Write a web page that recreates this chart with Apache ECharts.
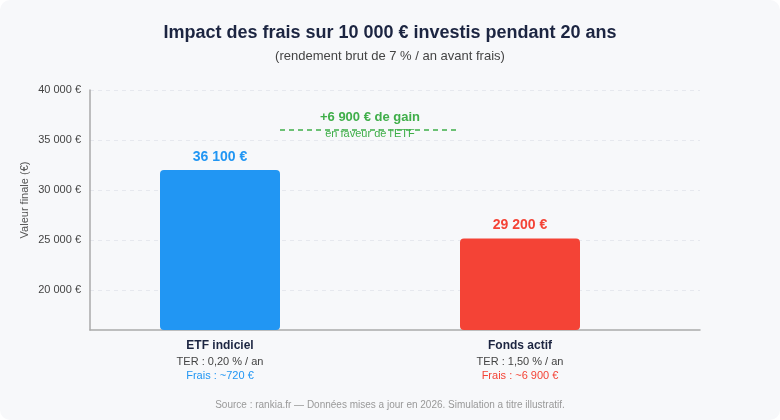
<!DOCTYPE html>
<html>
<head>
<meta charset="utf-8">
<script src="https://cdn.jsdelivr.net/npm/echarts@6/dist/echarts.min.js"></script>
<style>
  html, body { margin: 0; padding: 0; background: #ffffff; }
  #chart { width: 780px; height: 420px; background: #f7f8fa; border-radius: 10px; }
</style>
</head>
<body>
<div id="chart"></div>
<script>
// données
const categories = ['ETF indiciel', 'Fonds actif'];
const finalValues = [36100, 29200];
const terLabels = ['TER : 0,20 % / an', 'TER : 1,50 % / an'];
const feeLabels = ['Frais : ~720 €', 'Frais : ~6 900 €'];
const barColors = ['#2196f3', '#f44336'];
const yTicks = [20000, 25000, 30000, 35000, 40000];
const gainText = '+6 900 € de gain';
const gainSub = "en faveur de l'ETF";

const fmt = v => String(v).replace(/\B(?=(\d{3})+(?!\d))/g, ' ') + ' €';
const font = '"Liberation Sans", Arial, sans-serif';

const chart = echarts.init(document.getElementById('chart'));
chart.setOption({
    textStyle: { fontFamily: font },
    animation: false,
    title: {
        text: 'Impact des frais sur 10 000 € investis pendant 20 ans',
        subtext: '(rendement brut de 7 % / an avant frais)',
        left: 'center',
        top: 19,
        itemGap: 8,
        textStyle: { fontSize: 18, fontWeight: 'bold', color: '#1c2541', fontFamily: font },
        subtextStyle: { fontSize: 13, color: '#444', fontFamily: font }
    },
    grid: [
        // ticks et lignes de grille
        { left: 90, width: 610, top: 90, height: 200 },
        // axes
        { left: 90, width: 610, top: 90, height: 240 },
        // barres
        { left: 70, width: 600, top: 90, height: 240 }
    ],
    xAxis: [
        { gridIndex: 0, type: 'category', data: categories, show: false },
        {
            gridIndex: 1, type: 'category', data: categories,
            axisLine: { lineStyle: { color: '#aaaaaa', width: 1.5 } },
            axisTick: { show: false }, axisLabel: { show: false }
        },
        {
            gridIndex: 2, type: 'category', data: categories,
            axisLine: { show: false }, axisTick: { show: false },
            axisLabel: {
                margin: 8,
                interval: 0,
                formatter: (val, i) => '{n|' + val + '}\n{t|' + terLabels[i] + '}\n{f' + i + '|' + feeLabels[i] + '}',
                rich: {
                    n: { fontSize: 12, fontWeight: 'bold', color: '#1c2541', lineHeight: 16, fontFamily: font },
                    t: { fontSize: 11, color: '#444', lineHeight: 15, fontFamily: font },
                    f0: { fontSize: 11, color: barColors[0], lineHeight: 14, fontFamily: font },
                    f1: { fontSize: 11, color: barColors[1], lineHeight: 14, fontFamily: font }
                }
            }
        }
    ],
    yAxis: [
        {
            gridIndex: 0, type: 'value', min: yTicks[0], max: yTicks[yTicks.length - 1], interval: 5000,
            axisLine: { show: false }, axisTick: { show: false },
            axisLabel: { fontSize: 11, color: '#444', margin: 9, formatter: fmt },
            splitLine: { lineStyle: { color: '#e6e8ee', type: [4, 4], width: 1 } }
        },
        {
            gridIndex: 1, type: 'value', min: 0, max: 1,
            axisLine: { show: true, lineStyle: { color: '#aaaaaa', width: 1.5 } },
            axisTick: { show: false }, axisLabel: { show: false }, splitLine: { show: false }
        },
        {
            gridIndex: 2, type: 'value', min: 20000, max: 44150, show: false
        }
    ],
    series: [{
        type: 'bar',
        xAxisIndex: 2,
        yAxisIndex: 2,
        barWidth: 120,
        data: finalValues.map((v, i) => ({
            value: v,
            itemStyle: { color: barColors[i], borderRadius: 4 },
            label: { color: barColors[i] }
        })),
        label: {
            show: true,
            position: 'top',
            distance: 6,
            fontSize: 14,
            fontWeight: 'bold',
            fontFamily: font,
            formatter: p => fmt(p.value)
        }
    }],
    graphic: [
        {
            type: 'text', x: 25, y: 200, rotation: Math.PI / 2,
            style: { text: 'Valeur finale (€)', fill: '#555', font: '11px ' + font, align: 'center', verticalAlign: 'middle' }
        },
        {
            type: 'line',
            shape: { x1: 280, y1: 130, x2: 460, y2: 130 },
            style: { stroke: '#3fae49', lineWidth: 1.5, lineDash: [5, 4] }
        },
        {
            type: 'text', x: 370, y: 117,
            style: { text: gainText, fill: '#3fae49', font: 'bold 13px ' + font, align: 'center', verticalAlign: 'middle' }
        },
        {
            type: 'text', x: 370, y: 134,
            style: { text: gainSub, fill: '#3fae49', font: '11px ' + font, align: 'center', verticalAlign: 'middle' }
        },
        {
            type: 'text', x: 390, y: 405,
            style: {
                text: 'Source : rankia.fr — Données mises a jour en 2026. Simulation a titre illustratif.',
                fill: '#999', font: '10px ' + font, align: 'center', verticalAlign: 'middle'
            }
        }
    ]
});
</script>
</body>
</html>
